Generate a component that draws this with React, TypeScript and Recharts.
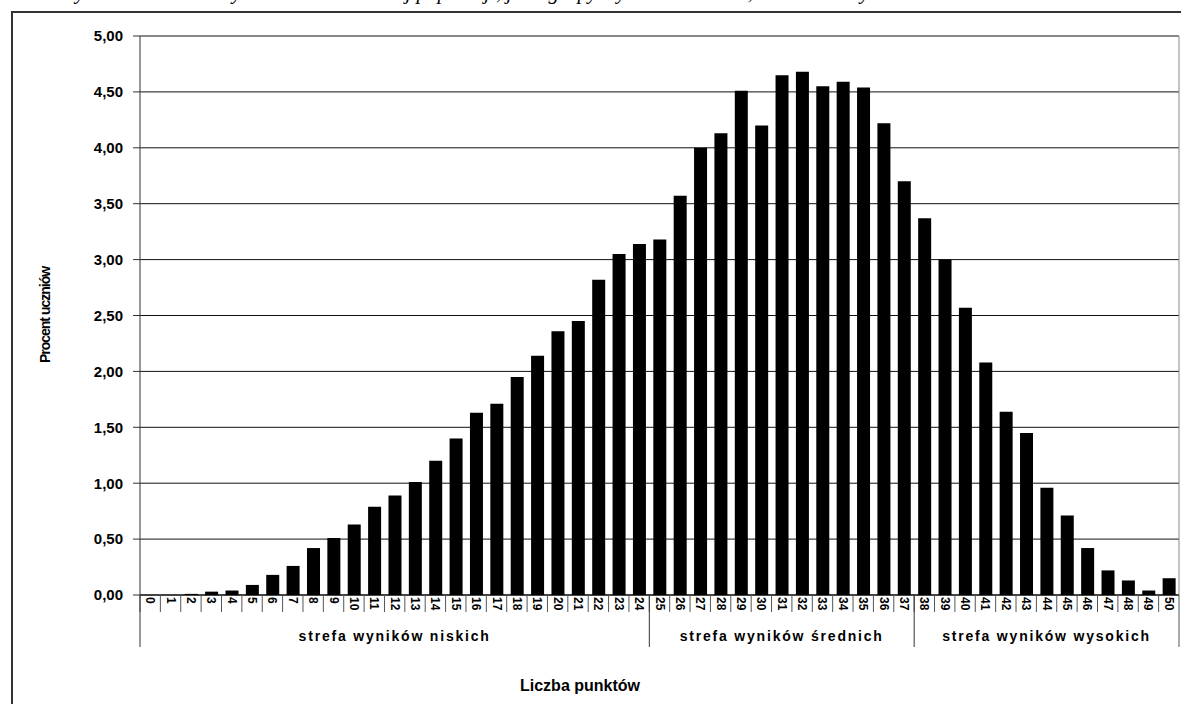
import * as React from "react";
import {
  BarChart,
  Bar,
  XAxis,
  YAxis,
  CartesianGrid,
} from "recharts";

// Liczba punktów 0..50
const points = [
  "0", "1", "2", "3", "4", "5", "6", "7", "8", "9",
  "10", "11", "12", "13", "14", "15", "16", "17", "18", "19",
  "20", "21", "22", "23", "24", "25", "26", "27", "28", "29",
  "30", "31", "32", "33", "34", "35", "36", "37", "38", "39",
  "40", "41", "42", "43", "44", "45", "46", "47", "48", "49", "50",
];

// Procent uczniów
const percent = [
  0, 0, 0.01, 0.03, 0.04, 0.09, 0.18, 0.26, 0.42, 0.51,
  0.63, 0.79, 0.89, 1.01, 1.2, 1.4, 1.63, 1.71, 1.95, 2.14,
  2.36, 2.45, 2.82, 3.05, 3.14, 3.18, 3.57, 4.0, 4.13, 4.51,
  4.2, 4.65, 4.68, 4.55, 4.59, 4.54, 4.22, 3.7, 3.37, 3.0,
  2.57, 2.08, 1.64, 1.45, 0.96, 0.71, 0.42, 0.22, 0.13, 0.04, 0.15,
];

const yTicks = [0, 0.5, 1, 1.5, 2, 2.5, 3, 3.5, 4, 4.5, 5];

// strefy: pierwszy punkt strefy i etykieta na jej środku
const zoneStarts = ["0", "25", "38"];
const zoneLabels: Record<string, string> = {
  "12": "strefa wyników niskich",
  "31": "strefa wyników średnich",
  "44": "strefa wyników wysokich",
};

const data = points.map((p, i) => ({ pkt: p, value: percent[i] }));

const W = 1181;
const H = 704;
const PLOT_L = 140;
const PLOT_R = 1179;
const CAT_W = (PLOT_R - PLOT_L) / points.length;
const FONT = "'Liberation Sans', Arial, sans-serif";

function PointTick(props: any) {
  const { x, y, payload } = props;
  const v = String(payload.value);
  const half = CAT_W / 2;
  const isLast = v === points[points.length - 1];
  return (
    <g>
      <line x1={x - half} x2={x - half} y1={y} y2={y + 17} stroke="#555" />
      {isLast && <line x1={x + half} x2={x + half} y1={y} y2={y + 52} stroke="#555" />}
      {zoneStarts.includes(v) && (
        <line x1={x - half} x2={x - half} y1={y} y2={y + 52} stroke="#333" />
      )}
      <text
        transform={`translate(${x},${y + 2}) rotate(90)`}
        textAnchor="start"
        dominantBaseline="central"
        fontSize={12}
        fontWeight="bold"
        fontFamily={FONT}
        fill="#000"
      >
        {v}
      </text>
      {zoneLabels[v] && (
        <text
          x={x}
          y={y + 46}
          textAnchor="middle"
          fontSize={14}
          fontWeight="bold"
          fontFamily={FONT}
          letterSpacing={1.8}
          fill="#000"
        >
          {zoneLabels[v]}
        </text>
      )}
    </g>
  );
}

const fmt = (v: number) => v.toFixed(2).replace(".", ",");

export default function App() {
  return (
    <div
      style={{
        position: "absolute",
        left: 0,
        top: 0,
        width: W,
        height: H,
        overflow: "hidden",
        background: "#fff",
      }}
    >
      {/* linia tekstu nad wykresem, ucięta jak w oryginale */}
      <svg width={W} height={10} style={{ position: "absolute", left: 0, top: 0 }}>
        <text
          x={60}
          y={-1}
          fontSize={21}
          fontStyle="italic"
          fontFamily="'Liberation Serif', 'Times New Roman', serif"
          fill="#000"
        >
          Wykres 3. Rozkład wyników uczniów w tej populacji, jak i grupy wyników: niskich, średnich i wysokich
        </text>
      </svg>
      {/* ramka wykresu */}
      <div
        style={{
          position: "absolute",
          left: 11,
          top: 11,
          width: 1300,
          height: 900,
          borderLeft: "2px solid #333",
          borderTop: "2px solid #333",
        }}
      />
      <div style={{ position: "absolute", left: 0, top: 0 }}>
        <BarChart
          width={W}
          height={H}
          data={data}
          margin={{ top: 36, right: 0, bottom: 0, left: 0 }}
          barSize={13}
        >
          <CartesianGrid vertical={false} stroke="#111" strokeOpacity={1} />
          <XAxis
            dataKey="pkt"
            interval={0}
            height={109}
            tickLine={false}
            tickSize={0}
            tickMargin={0}
            axisLine={{ stroke: "#000" }}
            tick={<PointTick />}
          />
          <YAxis
            domain={[0, 5]}
            ticks={yTicks}
            width={140}
            tickSize={7}
            tickMargin={10}
            tickLine={{ stroke: "#333" }}
            axisLine={{ stroke: "#333" }}
            tickFormatter={fmt}
            tick={{ fontSize: 15, fontWeight: "bold", fontFamily: FONT, fill: "#000" }}
            interval={0}
          />
          <YAxis
            yAxisId="right"
            orientation="right"
            domain={[0, 5]}
            width={2}
            tick={false}
            tickLine={false}
            axisLine={{ stroke: "#888" }}
          />
          <Bar dataKey="value" fill="#000" isAnimationActive={false} />
        </BarChart>
      </div>
      <svg width={W} height={H} style={{ position: "absolute", left: 0, top: 0, pointerEvents: "none" }}>
        <text
          transform="translate(50,315) rotate(-90)"
          textAnchor="middle"
          fontSize={14}
          fontWeight="bold"
          fontFamily={FONT}
          letterSpacing={-1}
          fill="#000"
        >
          Procent uczniów
        </text>
        <text
          x={580}
          y={691}
          textAnchor="middle"
          fontSize={16}
          fontWeight="bold"
          fontFamily={FONT}
          fill="#000"
        >
          Liczba punktów
        </text>
      </svg>
    </div>
  );
}
